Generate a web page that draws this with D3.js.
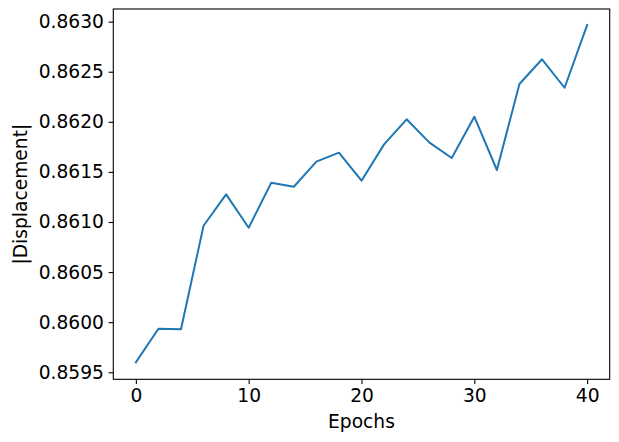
<!DOCTYPE html>
<html><head><meta charset="utf-8">
<script src="https://cdn.jsdelivr.net/npm/d3@7"></script>
<style>
body{margin:0;background:#fff;}
svg{display:block;}
text{font-family:"DejaVu Sans",sans-serif;fill:#000;}
</style></head>
<body>
<script>
const epochs = [0,2,4,6,8,10,12,14,16,18,20,22,24,26,28,30,32,34,36,38,40];
const displacement = [0.85960,0.859935,0.859929,0.860963,0.861276,0.860943,0.861392,0.861352,0.861602,0.861692,0.861412,0.861775,0.862025,0.861795,0.861639,0.862051,0.861519,0.862377,0.862624,0.862340,0.862966];
const xTicks = [0,10,20,30,40];
const yTicks = [0.8595,0.8600,0.8605,0.8610,0.8615,0.8620,0.8625,0.8630];

const W=619,H=442;
const m={left:113.3,top:9,right:W-609.7,bottom:H-379.3};
const svg=d3.select("body").append("svg").attr("width",W).attr("height",H);
const x=d3.scaleLinear().domain([-2,42]).range([m.left,W-m.right]);
const y=d3.scaleLinear().domain([0.85943,0.863126]).range([H-m.bottom,m.top]);
const fs="18.67px";

const xa=svg.append("g").attr("transform",`translate(0,${H-m.bottom})`)
  .call(d3.axisBottom(x).tickValues(xTicks).tickFormat(d3.format("d")).tickSizeOuter(0).tickSize(4.7).tickPadding(4.7));
const ya=svg.append("g").attr("transform",`translate(${m.left},0)`)
  .call(d3.axisLeft(y).tickValues(yTicks).tickFormat(d3.format(".4f")).tickSizeOuter(0).tickSize(4.7).tickPadding(4.7));
[xa,ya].forEach(a=>{a.select(".domain").remove();a.selectAll("line").attr("stroke","#000").attr("stroke-width",1.1);
  a.selectAll("text").style("font-size",fs).style("font-family","DejaVu Sans");});

svg.append("rect").attr("x",m.left).attr("y",m.top).attr("width",W-m.right-m.left).attr("height",H-m.bottom-m.top)
  .attr("fill","none").attr("stroke","#000").attr("stroke-width",1.1);

svg.append("path").datum(epochs.map((e,i)=>[e,displacement[i]]))
  .attr("d",d3.line().x(d=>x(d[0])).y(d=>y(d[1])))
  .attr("fill","none").attr("stroke","#1f77b4").attr("stroke-width",2).attr("stroke-linejoin","round").attr("stroke-linecap","square");

svg.append("text").attr("x",(m.left+W-m.right)/2).attr("y",428).attr("text-anchor","middle").style("font-size",fs).text("Epochs");
svg.append("text").attr("transform",`translate(27,${(m.top+H-m.bottom)/2}) rotate(-90)`).attr("text-anchor","middle").style("font-size",fs).text("|Displacement|");
</script>
</body></html>
